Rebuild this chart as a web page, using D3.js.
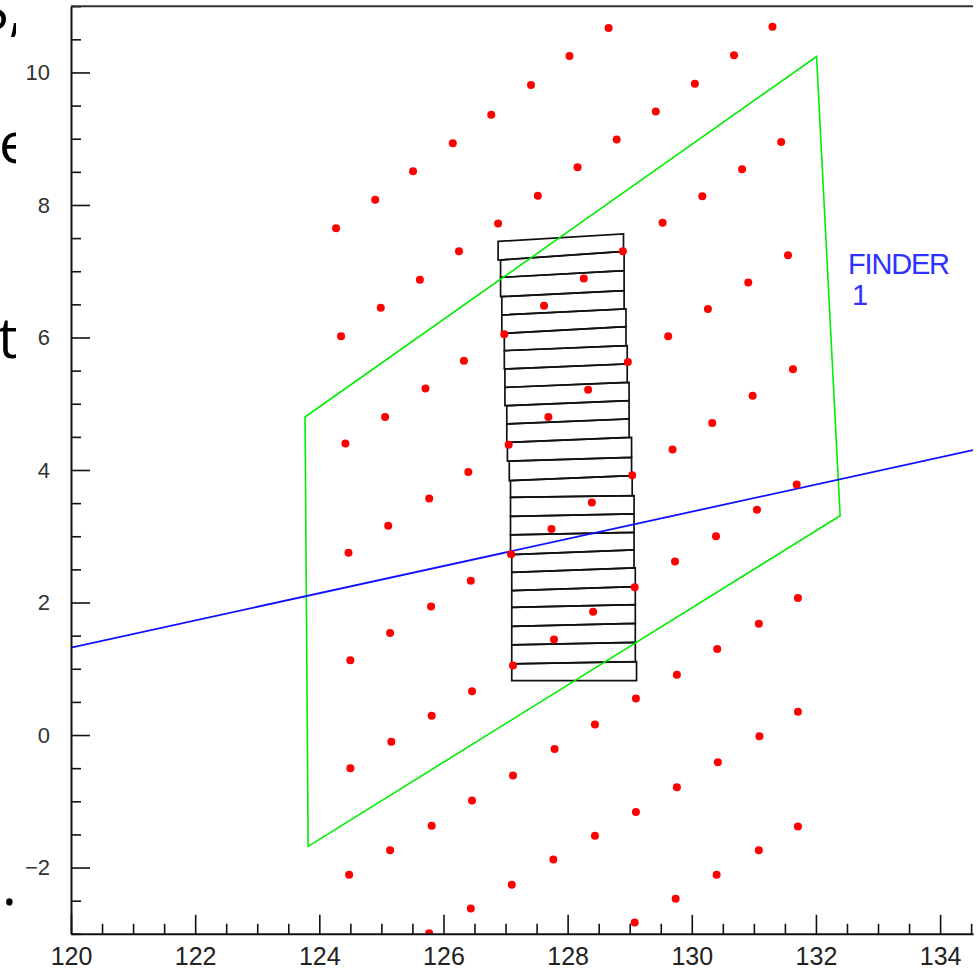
<!DOCTYPE html>
<html>
<head>
<meta charset="utf-8">
<script src="https://cdn.jsdelivr.net/npm/d3@7"></script>
<style>
  body { margin: 0; background: #fff; }
</style>
</head>
<body>
<div class="chart"></div>
<script>
// red hits (x, y)
const hitX = [128.66, 131.30, 128.03, 130.68, 127.41, 130.05, 126.77, 129.42, 126.15, 128.79,
  131.44, 125.51, 128.16, 130.81, 124.90, 127.52, 130.17, 124.27, 126.88, 129.53,
  126.25, 128.89, 131.55, 125.62, 128.26, 130.91, 124.99, 127.62, 130.26, 124.35,
  126.98, 129.62, 126.33, 128.97, 131.63, 125.71, 128.33, 130.98, 125.06, 127.69,
  130.33, 124.42, 127.05, 129.69, 126.40, 129.04, 131.69, 125.77, 128.39, 131.05,
  125.11, 127.74, 130.39, 124.47, 127.09, 129.73, 126.44, 129.08, 131.71, 125.80,
  128.41, 131.08, 125.14, 127.78, 130.41, 124.50, 127.12, 129.76, 126.46, 129.10,
  131.71, 125.81, 128.44, 131.09, 125.16, 127.79, 130.42, 124.50, 127.12, 129.76,
  126.46, 129.10, 131.71, 125.81, 128.44, 131.08, 125.14, 127.77, 130.40, 124.48,
  127.10, 129.74, 126.44, 129.08, 125.77]
const hitY = [10.67, 10.69, 10.25, 10.26, 9.81, 9.83, 9.36, 9.41, 8.93, 8.99,
  8.95, 8.51, 8.57, 8.54, 8.08, 8.14, 8.13, 7.65, 7.72, 7.73,
  7.30, 7.30, 7.24, 6.87, 6.89, 6.83, 6.45, 6.48, 6.43, 6.02,
  6.05, 6.02, 5.65, 5.63, 5.52, 5.23, 5.21, 5.12, 4.80, 4.80,
  4.71, 4.40, 4.38, 4.31, 3.97, 3.92, 3.78, 3.57, 3.51, 3.40,
  3.16, 3.11, 3.00, 2.75, 2.73, 2.62, 2.33, 2.23, 2.07, 1.94,
  1.86, 1.68, 1.54, 1.44, 1.30, 1.13, 1.05, 0.91, 0.66, 0.55,
  0.35, 0.29, 0.16, -0.02, -0.10, -0.21, -0.41, -0.50, -0.61, -0.79,
  -0.99, -1.16, -1.38, -1.37, -1.52, -1.74, -1.74, -1.88, -2.11, -2.11,
  -2.26, -2.47, -2.62, -2.83, -2.99]

// strip layer: strip left/right x, boundary y at left and right side
const stripXL = [126.88, 126.92, 126.92, 126.94, 126.94, 126.98, 126.98, 126.99, 126.99, 127.02,
  127.02, 127.03, 127.06, 127.08, 127.08, 127.08, 127.08, 127.10, 127.10, 127.10,
  127.10, 127.10, 127.10, 127.10]
const stripXR = [128.90, 128.91, 128.91, 128.91, 128.94, 128.94, 128.96, 128.96, 128.99, 128.99,
  128.99, 129.03, 129.03, 129.04, 129.07, 129.07, 129.07, 129.07, 129.09, 129.09,
  129.09, 129.09, 129.09, 129.11]
const edgeYL = [7.450, 7.169, 6.907, 6.616, 6.339, 6.062, 5.801, 5.525, 5.247, 4.971,
  4.695, 4.417, 4.133, 3.839, 3.587, 3.301, 3.020, 2.723, 2.456, 2.180,
  1.928, 1.641, 1.360, 1.074, 0.822]
const edgeYR = [7.562, 7.299, 7.008, 6.706, 6.430, 6.163, 5.876, 5.600, 5.322, 5.046,
  4.770, 4.493, 4.191, 3.915, 3.613, 3.337, 3.059, 2.794, 2.522, 2.240,
  1.968, 1.686, 1.399, 1.108, 0.822]

// green finder outline
const finderX = [123.77, 132.01, 132.39, 123.82]
const finderY = [4.80, 10.24, 3.31, -1.68]

// blue track
const trackX = [120, 134.53]
const trackY = [1.32, 4.30]

const finderLabel = ["FINDER", "1"]

const xMajor = [120, 122, 124, 126, 128, 130, 132, 134]
const yMajor = [-2, 0, 2, 4, 6, 8, 10]

const sideText = ["S,", "e", "t", "."]

const width = 977
const height = 969

const svg = d3.select(".chart").append("svg")
    .attr("width", width)
    .attr("height", height)
    .attr("viewBox", [0, 0, width, height])
    .style("display", "block")

const x = d3.scaleLinear().domain([120, 134.53]).range([71, 973])
const y = d3.scaleLinear().domain([-3, 11]).range([933.8, 6.2])

// cropped slide text peeking out on the left
svg.append("clipPath").attr("id", "side")
  .append("rect").attr("x", 0).attr("y", 0).attr("width", 16).attr("height", height)

const sidePos = [[-22, 30], [-1, 163], [-2, 358], [2, 905]]
svg.append("g")
    .attr("clip-path", "url(#side)")
    .selectAll("text")
    .data(sideText)
    .join("text")
    .attr("x", (d, i) => sidePos[i][0])
    .attr("y", (d, i) => sidePos[i][1])
    .attr("font-family", "'Open Sans', sans-serif")
    .attr("font-size", 56)
    .attr("fill", "#000")
    .text(d => d)

svg.append("clipPath").attr("id", "plot")
  .append("rect")
    .attr("x", x(120)).attr("y", y(11))
    .attr("width", x(134.53) - x(120)).attr("height", y(-3) - y(11))

const plot = svg.append("g").attr("clip-path", "url(#plot)")

// strips
const strips = stripXL.map((xl, i) => ({
  xl, xr: stripXR[i],
  t0: edgeYL[i], t1: edgeYR[i],
  b0: edgeYL[i + 1], b1: edgeYR[i + 1]
}))

plot.append("g")
    .selectAll("path")
    .data(strips)
    .join("path")
    .attr("d", d => d3.line()([
        [x(d.xl), y(d.t0)], [x(d.xr), y(d.t1)],
        [x(d.xr), y(d.b1)], [x(d.xl), y(d.b0)]
      ]) + "Z")
    .attr("fill", "none")
    .attr("stroke", "#111")
    .attr("stroke-width", 1.7)

// green finder
plot.append("path")
    .datum(finderX.map((v, i) => [v, finderY[i]]))
    .attr("d", d => d3.line().x(p => x(p[0])).y(p => y(p[1]))(d) + "Z")
    .attr("fill", "none")
    .attr("stroke", "#00ee00")
    .attr("stroke-width", 1.6)

// blue track
plot.append("path")
    .datum(trackX.map((v, i) => [v, trackY[i]]))
    .attr("d", d3.line().x(p => x(p[0])).y(p => y(p[1])))
    .attr("fill", "none")
    .attr("stroke", "#1010ff")
    .attr("stroke-width", 1.8)

// hits
plot.append("g")
    .selectAll("circle")
    .data(hitX.map((v, i) => ({x: v, y: hitY[i]})))
    .join("circle")
    .attr("cx", d => x(d.x))
    .attr("cy", d => y(d.y))
    .attr("r", 4)
    .attr("fill", "#ff0000")

// FINDER label
svg.append("g")
    .selectAll("text")
    .data(finderLabel)
    .join("text")
    .attr("x", (d, i) => i === 0 ? 848 : 852)
    .attr("y", (d, i) => i === 0 ? 274 : 305)
    .attr("font-family", "'Liberation Sans', Arial, sans-serif")
    .attr("font-size", 29)
    .attr("fill", "#3030ff")
    .attr("textLength", (d, i) => i === 0 ? 102 : null)
    .text(d => d)

// axes: major and minor ticks drawn inward
const yMinor = d3.range(-3, 11.01, 0.5).filter(v => !yMajor.includes(v))
const xMinor = d3.range(120, 134.51, 0.5).filter(v => !xMajor.includes(v))

const yAxis = svg.append("g").attr("transform", `translate(${x(120)},0)`)
yAxis.call(d3.axisLeft(y).tickValues(yMajor).tickSize(-19).tickSizeOuter(0).tickPadding(21))
yAxis.append("g").call(d3.axisLeft(y).tickValues(yMinor).tickSize(-10).tickFormat(""))
    .select(".domain").remove()

const xAxis = svg.append("g").attr("transform", `translate(0,${y(-3)})`)
xAxis.call(d3.axisBottom(x).tickValues(xMajor).tickSize(-19).tickSizeOuter(0).tickPadding(13))
xAxis.append("g").call(d3.axisBottom(x).tickValues(xMinor).tickSize(-10).tickFormat(""))
    .select(".domain").remove()

svg.selectAll(".tick line").attr("stroke", "#111").attr("stroke-width", 1.6)
svg.selectAll(".domain").attr("stroke", "#111").attr("stroke-width", 2)

yAxis.selectAll(".tick text")
    .attr("font-family", "'Liberation Sans', Arial, sans-serif")
    .attr("font-size", 22)
    .attr("fill", "#333")
xAxis.selectAll(".tick text")
    .attr("font-family", "'Liberation Sans', Arial, sans-serif")
    .attr("font-size", 25)
    .attr("fill", "#222")

// top frame line
svg.append("line")
    .attr("x1", x(120)).attr("x2", x(134.53))
    .attr("y1", y(11)).attr("y2", y(11))
    .attr("stroke", "#333")
    .attr("stroke-width", 2)
</script>
</body>
</html>
